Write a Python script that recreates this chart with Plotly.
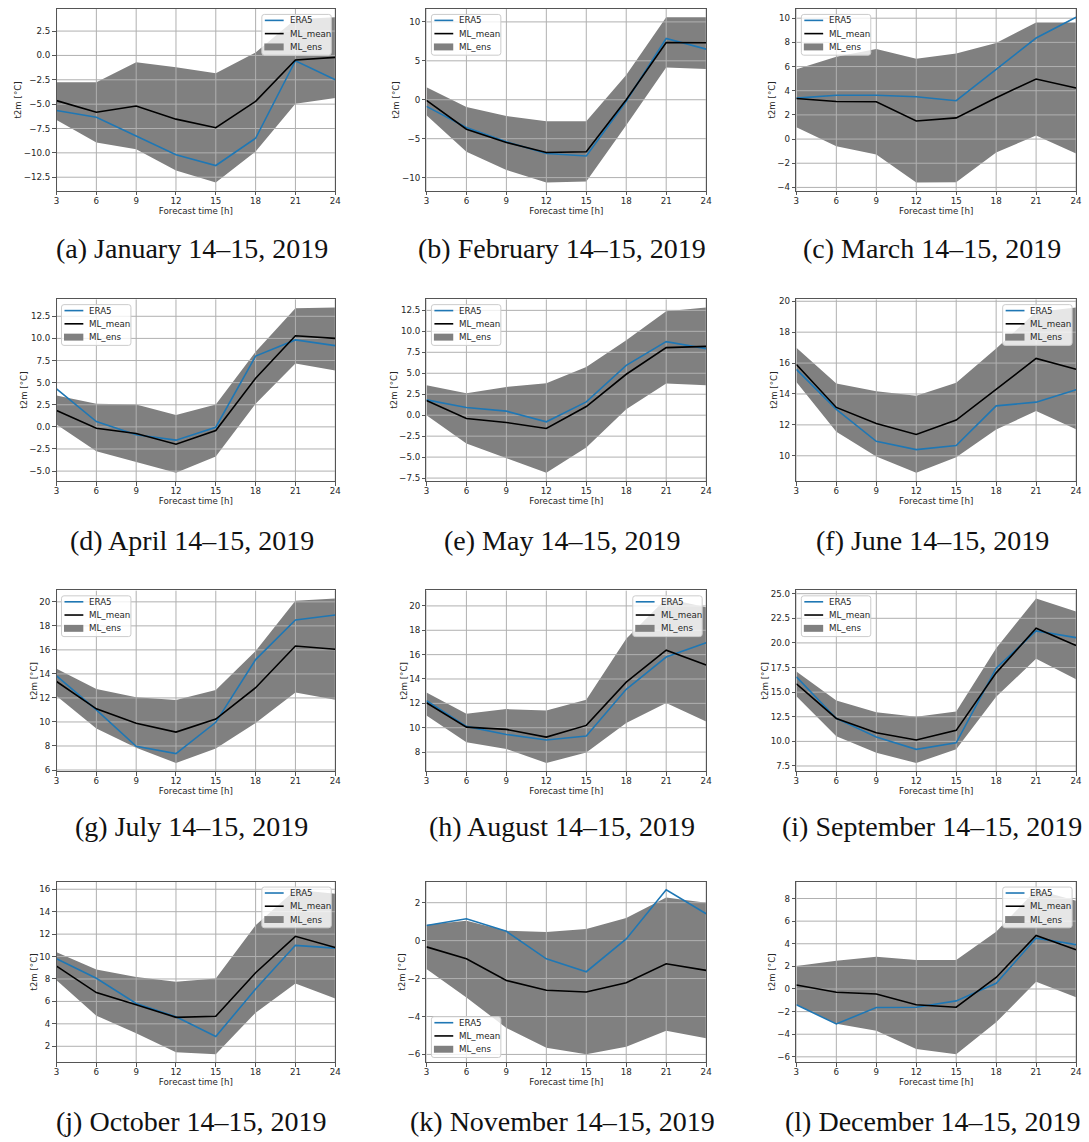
import numpy as np
import plotly.graph_objects as go

# ---------------------------------------------------------------------------
# Data: 2 m temperature forecasts for the 14th–15th of each month in 2019
# ---------------------------------------------------------------------------
forecast_hours = [3, 6, 9, 12, 15, 18, 21, 24]

captions = [
    "(a) January 14–15, 2019", "(b) February 14–15, 2019", "(c) March 14–15, 2019",
    "(d) April 14–15, 2019", "(e) May 14–15, 2019", "(f) June 14–15, 2019",
    "(g) July 14–15, 2019", "(h) August 14–15, 2019", "(i) September 14–15, 2019",
    "(j) October 14–15, 2019", "(k) November 14–15, 2019", "(l) December 14–15, 2019",
]

# ERA5 reanalysis
era5 = [
    [-5.66, -6.34, -8.27, -10.2, -11.3, -8.5, -0.54, -2.5],
    [-0.85, -3.57, -5.4, -6.9, -7.23, -0.2, 7.87, 6.5],
    [3.39, 3.63, 3.63, 3.5, 3.17, 5.77, 8.36, 10.08],
    [4.29, 0.6, -0.9, -1.5, -0.04, 8.0, 9.83, 9.18],
    [1.83, 0.91, 0.48, -0.79, 1.59, 5.95, 8.77, 7.94],
    [15.59, 13.0, 10.94, 10.4, 10.66, 13.23, 13.47, 14.28],
    [13.84, 11.0, 7.97, 7.37, 9.97, 15.19, 18.49, 18.9],
    [12.21, 10.11, 9.45, 8.99, 9.32, 13.15, 15.8, 16.97],
    [16.55, 12.33, 10.44, 9.19, 9.86, 17.43, 21.22, 20.54],
    [9.8, 8.06, 5.82, 4.64, 2.87, 7.1, 11.0, 10.75],
    [0.8, 1.15, 0.49, -0.96, -1.64, 0.09, 2.68, 1.42],
    [-1.4, -3.09, -1.64, -1.61, -1.05, 0.5, 4.5, 3.92],
]

# ML ensemble mean
ml_mean = [
    [-4.64, -5.83, -5.19, -6.54, -7.42, -4.71, -0.47, -0.2],
    [-0.08, -3.79, -5.49, -6.77, -6.68, 0.0, 7.36, 7.32],
    [3.36, 3.11, 3.09, 1.5, 1.75, 3.42, 4.97, 4.23],
    [1.84, -0.15, -0.75, -1.96, -0.41, 5.5, 10.3, 10.0],
    [1.75, -0.4, -0.87, -1.59, 1.03, 4.88, 8.06, 8.21],
    [15.91, 13.13, 12.09, 11.38, 12.31, 14.28, 16.3, 15.6],
    [13.37, 11.09, 9.9, 9.16, 10.24, 12.85, 16.32, 16.05],
    [12.05, 10.05, 9.86, 9.23, 10.19, 13.74, 16.37, 15.14],
    [15.84, 12.33, 10.88, 10.14, 11.12, 16.96, 21.49, 19.73],
    [9.15, 6.79, 5.7, 4.58, 4.67, 8.56, 11.8, 10.8],
    [-0.33, -0.96, -2.1, -2.62, -2.71, -2.22, -1.22, -1.57],
    [0.35, -0.29, -0.44, -1.4, -1.61, 1.02, 4.74, 3.48],
]

# ML ensemble envelope (upper / lower bound)
ens_high = [
    [-2.75, -2.75, -0.71, -1.22, -1.83, 0.3, 3.7, 3.92],
    [1.6, -0.94, -2.09, -2.77, -2.77, 3.19, 10.6, 10.6],
    [5.77, 6.8, 7.46, 6.64, 7.08, 7.95, 9.64, 9.64],
    [3.54, 2.6, 2.52, 1.35, 2.52, 8.5, 13.4, 13.5],
    [3.57, 2.62, 3.37, 3.81, 5.75, 8.93, 12.4, 12.85],
    [16.99, 14.68, 14.18, 13.88, 14.72, 16.95, 19.3, 19.6],
    [14.44, 12.74, 12.05, 11.83, 12.66, 15.9, 20.1, 20.27],
    [12.9, 11.15, 11.53, 11.42, 12.3, 17.3, 20.6, 19.9],
    [17.09, 14.14, 12.96, 12.5, 13.03, 19.47, 24.5, 23.2],
    [10.38, 8.85, 8.17, 7.76, 8.05, 12.8, 15.95, 15.6],
    [0.84, 1.05, 0.52, 0.45, 0.61, 1.19, 2.27, 2.0],
    [2.03, 2.5, 2.85, 2.56, 2.56, 5.05, 8.77, 7.8],
]
ens_low = [
    [-6.64, -8.95, -9.63, -11.8, -13.05, -9.86, -4.95, -4.37],
    [-2.0, -6.68, -9.02, -10.64, -10.5, -3.28, 4.13, 3.96],
    [0.98, -0.6, -1.28, -3.6, -3.58, -1.12, 0.3, -1.2],
    [0.26, -2.75, -4.0, -5.19, -3.35, 2.6, 7.15, 6.36],
    [0.0, -3.37, -5.16, -6.87, -3.85, 0.71, 3.77, 3.57],
    [14.78, 11.55, 9.96, 8.9, 9.91, 11.7, 12.9, 11.72],
    [12.17, 9.45, 7.86, 6.58, 7.8, 9.92, 12.45, 11.84],
    [11.0, 8.8, 8.25, 7.1, 7.97, 10.38, 12.02, 10.52],
    [14.58, 10.53, 8.85, 7.8, 9.19, 14.53, 18.38, 16.3],
    [7.88, 4.73, 3.17, 1.47, 1.29, 5.0, 7.6, 6.27],
    [-1.49, -3.0, -4.6, -5.65, -5.99, -5.6, -4.75, -5.15],
    [-1.4, -3.07, -3.7, -5.3, -5.77, -2.95, 0.64, -0.73],
]

series_names = ["ERA5", "ML_mean", "ML_ens"]

# y tick spacing per panel and legend corner per panel
y_tick_step = [2.5, 5, 2, 2.5, 2.5, 2, 2, 2, 2.5, 2, 2, 2]
legend_corner = ["ur", "ul", "ul", "ul", "ul", "ur", "ul", "ur", "ul", "ur", "ll", "ur"]

# ---------------------------------------------------------------------------
# Layout geometry (pixels)
# ---------------------------------------------------------------------------
W, H = 1089, 1142
col_px = [(54, 335), (427, 709), (800, 1082)]
row_px = [(6, 189), (298, 481), (591, 773), (884, 1066)]
caption_px = [247, 541, 829, 1125]

C_ERA5 = "#1f77b4"
C_MEAN = "#000000"
C_ENS = "#808080"
C_GRID = "#b0b0b0"
C_AXIS = "#555555"
TXT = "#262626"
SANS = "DejaVu Sans"
FS = 8.7

# legend box metrics (px)
LEG_W, LEG_H = 70, 41
LEG_ROWS = [6, 19.3, 32.7]


def fx(p):
    return p / W


def fy(p):
    return 1 - p / H


def rounded_box(x0, y0, x1, y1, rad=2.5):
    """SVG path of a rounded rectangle in paper coordinates (inputs in px)."""
    pts = [
        f"M {fx(x0 + rad)} {fy(y0)}",
        f"L {fx(x1 - rad)} {fy(y0)}",
        f"Q {fx(x1)} {fy(y0)} {fx(x1)} {fy(y0 + rad)}",
        f"L {fx(x1)} {fy(y1 - rad)}",
        f"Q {fx(x1)} {fy(y1)} {fx(x1 - rad)} {fy(y1)}",
        f"L {fx(x0 + rad)} {fy(y1)}",
        f"Q {fx(x0)} {fy(y1)} {fx(x0)} {fy(y1 - rad)}",
        f"L {fx(x0)} {fy(y0 + rad)}",
        f"Q {fx(x0)} {fy(y0)} {fx(x0 + rad)} {fy(y0)}",
        "Z",
    ]
    return " ".join(pts)


fig = go.Figure()
layout = dict(
    width=W, height=H,
    margin=dict(l=0, r=0, t=0, b=0),
    paper_bgcolor="white", plot_bgcolor="white",
    showlegend=False,
    annotations=[],
    shapes=[],
)

for i in range(12):
    r, c = divmod(i, 3)
    left, right = col_px[c]
    top, bottom = row_px[r]
    sfx = "" if i == 0 else str(i + 1)
    xref, yref = "x" + sfx, "y" + sfx

    lo_all = min(ens_low[i] + era5[i] + ml_mean[i])
    hi_all = max(ens_high[i] + era5[i] + ml_mean[i])
    pad = 0.05 * (hi_all - lo_all)
    y_lo, y_hi = lo_all - pad, hi_all + pad

    step = y_tick_step[i]
    y_ticks = [float(v) for v in np.arange(np.ceil(y_lo / step) * step, y_hi + 1e-9, step)]

    # ensemble envelope
    fig.add_trace(go.Scatter(
        x=forecast_hours + forecast_hours[::-1],
        y=ens_high[i] + ens_low[i][::-1],
        fill="toself", fillcolor=C_ENS, mode="lines",
        line=dict(width=0, color=C_ENS),
        name=series_names[2], xaxis=xref, yaxis=yref, hoverinfo="skip",
    ))

    # grid drawn above the envelope but beneath the lines
    gx, gy = [], []
    for h in forecast_hours:
        gx += [h, h, None]
        gy += [y_lo, y_hi, None]
    for t in y_ticks:
        gx += [forecast_hours[0], forecast_hours[-1], None]
        gy += [t, t, None]
    fig.add_trace(go.Scatter(
        x=gx, y=gy, mode="lines", line=dict(color=C_GRID, width=1),
        hoverinfo="skip", xaxis=xref, yaxis=yref,
    ))

    fig.add_trace(go.Scatter(
        x=forecast_hours, y=era5[i], mode="lines",
        line=dict(color=C_ERA5, width=1.6),
        name=series_names[0], xaxis=xref, yaxis=yref,
    ))
    fig.add_trace(go.Scatter(
        x=forecast_hours, y=ml_mean[i], mode="lines",
        line=dict(color=C_MEAN, width=1.6),
        name=series_names[1], xaxis=xref, yaxis=yref,
    ))

    layout["xaxis" + sfx] = dict(
        domain=[fx(left), fx(right)], anchor=yref,
        range=[forecast_hours[0], forecast_hours[-1]],
        tickmode="array", tickvals=forecast_hours,
        ticks="outside", ticklen=3.5, tickwidth=1, tickcolor=C_AXIS,
        ticklabelstandoff=-2,
        showgrid=False, zeroline=False,
        showline=True, linecolor=C_AXIS, linewidth=1, mirror=True,
        tickfont=dict(family=SANS, size=FS, color=TXT),
        title=dict(text="Forecast time [h]", standoff=1,
                   font=dict(family=SANS, size=FS, color=TXT)),
    )
    layout["yaxis" + sfx] = dict(
        domain=[fy(bottom), fy(top)], anchor=xref,
        range=[y_lo, y_hi],
        tickmode="array", tickvals=y_ticks,
        tickformat=".1f" if step == 2.5 else "d",
        ticks="outside", ticklen=3.5, tickwidth=1, tickcolor=C_AXIS,
        showgrid=False, zeroline=False,
        showline=True, linecolor=C_AXIS, linewidth=1, mirror=True,
        tickfont=dict(family=SANS, size=FS, color=TXT),
        title=dict(text="t2m [°C]", standoff=0,
                   font=dict(family=SANS, size=FS, color=TXT)),
    )

    # legend box (rounded, translucent white)
    corner = legend_corner[i]
    L = right - 4 - LEG_W if corner == "ur" else left + 5
    T = bottom - 5 - LEG_H if corner == "ll" else top + 5.5
    layout["shapes"].append(dict(
        type="path", path=rounded_box(L, T, L + LEG_W, T + LEG_H),
        xref="paper", yref="paper", layer="above",
        fillcolor="rgba(255,255,255,0.8)", line=dict(color="#cccccc", width=1),
    ))
    for k, (nm, row) in enumerate(zip(series_names, LEG_ROWS)):
        yc = T + row
        if k < 2:
            layout["shapes"].append(dict(
                type="line", xref="paper", yref="paper", layer="above",
                x0=fx(L + 3), x1=fx(L + 22), y0=fy(yc), y1=fy(yc),
                line=dict(color=[C_ERA5, C_MEAN][k], width=1.6),
            ))
        else:
            layout["shapes"].append(dict(
                type="rect", xref="paper", yref="paper", layer="above",
                x0=fx(L + 2.5), x1=fx(L + 22), y0=fy(yc - 3.5), y1=fy(yc + 3.5),
                fillcolor=C_ENS, line=dict(width=0),
            ))
        layout["annotations"].append(dict(
            text=nm, xref="paper", yref="paper", x=fx(L + 26), y=fy(yc),
            xanchor="left", yanchor="middle", showarrow=False,
            font=dict(family=SANS, size=FS, color=TXT),
        ))

    layout["annotations"].append(dict(
        text=captions[i], xref="paper", yref="paper",
        x=fx((left + right) / 2 - 4), y=fy(caption_px[r]),
        xanchor="center", yanchor="middle", showarrow=False,
        font=dict(family="Liberation Serif", size=28, color="#111111"),
    ))

fig.update_layout(**layout)
fig.write_html("out.html")
